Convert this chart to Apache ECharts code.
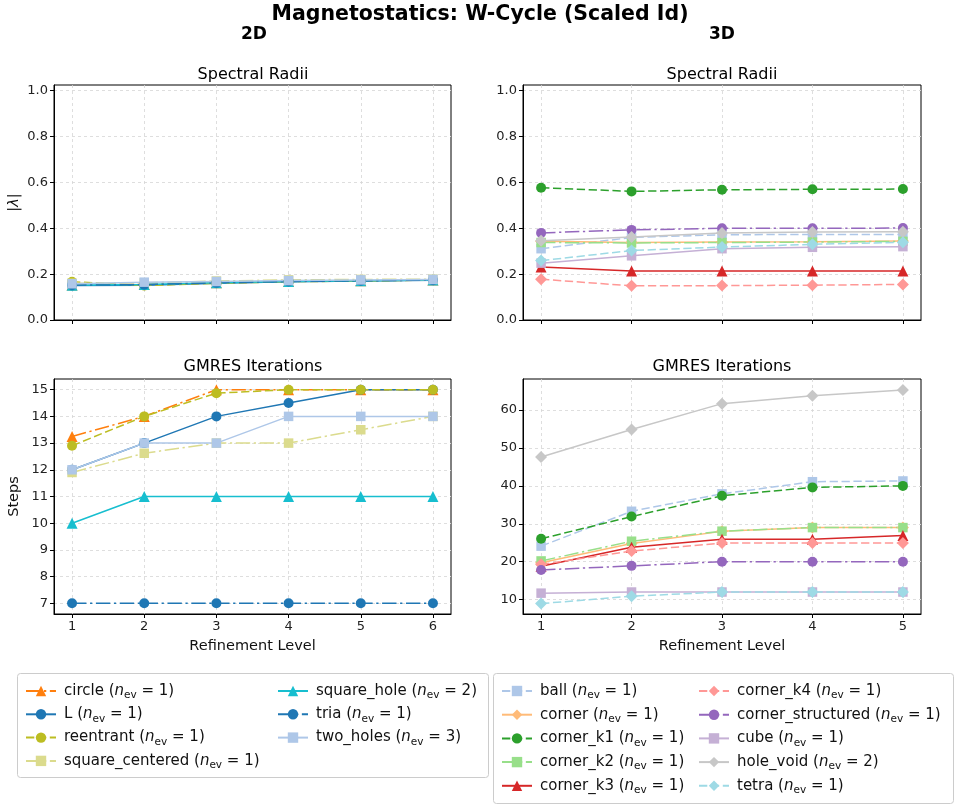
<!DOCTYPE html>
<html>
<head>
    <meta charset="UTF-8">
    <title>Magnetostatics: W-Cycle (Scaled Id)</title>
    <script src="https://cdn.jsdelivr.net/npm/echarts@6/dist/echarts.min.js"></script>
    <style>
        body { margin: 0; background: #fff; }
        #main { width: 960px; height: 811px; }
    </style>
</head>
<body>
    <div id="main"></div>
    <script>
        // refinement levels
        var levels2D = [1, 2, 3, 4, 5, 6];
        var levels3D = [1, 2, 3, 4, 5];
        var yTicksRho = [0, 0.2, 0.4, 0.6, 0.8, 1.0];
        var yTicksSteps2D = [7, 8, 9, 10, 11, 12, 13, 14, 15];
        var yTicksSteps3D = [10, 20, 30, 40, 50, 60];

        // 2D problems
        var names2D = ['circle', 'L', 'reentrant', 'square_centered', 'square_hole', 'tria', 'two_holes'];
        var nev2D = [1, 1, 1, 1, 2, 1, 3];
        var rho_circle = [0.153, 0.155, 0.162, 0.168, 0.171, 0.175];
        var rho_L = [0.150, 0.152, 0.160, 0.167, 0.170, 0.173];
        var rho_reentrant = [0.167, 0.150, 0.160, 0.167, 0.170, 0.174];
        var rho_square_centered = [0.160, 0.162, 0.170, 0.175, 0.177, 0.178];
        var rho_square_hole = [0.152, 0.155, 0.163, 0.168, 0.171, 0.174];
        var rho_tria = [0.152, 0.154, 0.162, 0.168, 0.171, 0.174];
        var rho_two_holes = [0.158, 0.165, 0.168, 0.172, 0.175, 0.177];

        var it_circle = [13.25, 14, 15, 15, 15, 15];
        var it_L = [12, 13, 14, 14.5, 15, 15];
        var it_reentrant = [12.9, 14, 14.87, 15, 15, 15];
        var it_square_centered = [11.9, 12.62, 13, 13, 13.5, 14];
        var it_square_hole = [10, 11, 11, 11, 11, 11];
        var it_tria = [7, 7, 7, 7, 7, 7];
        var it_two_holes = [12, 13, 13, 14, 14, 14];

        // 3D problems
        var names3D = ['ball', 'corner', 'corner_k1', 'corner_k2', 'corner_k3', 'corner_k4', 'corner_structured', 'cube', 'hole_void', 'tetra'];
        var nev3D = [1, 1, 1, 1, 1, 1, 1, 1, 2, 1];
        var rho_ball = [0.311, 0.360, 0.372, 0.373, 0.373];
        var rho_corner = [0.343, 0.338, 0.340, 0.341, 0.345];
        var rho_corner_k1 = [0.577, 0.561, 0.568, 0.570, 0.571];
        var rho_corner_k2 = [0.338, 0.336, 0.338, 0.340, 0.343];
        var rho_corner_k3 = [0.231, 0.214, 0.214, 0.214, 0.214];
        var rho_corner_k4 = [0.178, 0.149, 0.150, 0.152, 0.155];
        var rho_corner_structured = [0.380, 0.393, 0.400, 0.400, 0.401];
        var rho_cube = [0.248, 0.280, 0.311, 0.317, 0.320];
        var rho_hole_void = [0.346, 0.362, 0.380, 0.384, 0.385];
        var rho_tetra = [0.259, 0.303, 0.318, 0.330, 0.339];

        var it_ball = [24.1, 33.3, 37.9, 41.1, 41.3];
        var it_corner = [19.7, 24.8, 28, 29, 29];
        var it_corner_k1 = [26.05, 31.9, 37.4, 39.6, 40];
        var it_corner_k2 = [20.2, 25.4, 28.05, 29, 29];
        var it_corner_k3 = [18.8, 23.8, 25.9, 25.9, 26.9];
        var it_corner_k4 = [19.3, 22.8, 24.9, 24.9, 24.9];
        var it_corner_structured = [17.8, 18.9, 20, 20, 20];
        var it_cube = [11.7, 12, 12, 12, 12];
        var it_hole_void = [47.6, 54.9, 61.7, 63.8, 65.3];
        var it_tetra = [8.95, 10.9, 12, 12, 12];

        var rho2D = [rho_circle, rho_L, rho_reentrant, rho_square_centered, rho_square_hole, rho_tria, rho_two_holes];
        var it2D = [it_circle, it_L, it_reentrant, it_square_centered, it_square_hole, it_tria, it_two_holes];
        var rho3D = [rho_ball, rho_corner, rho_corner_k1, rho_corner_k2, rho_corner_k3, rho_corner_k4, rho_corner_structured, rho_cube, rho_hole_void, rho_tetra];
        var it3D = [it_ball, it_corner, it_corner_k1, it_corner_k2, it_corner_k3, it_corner_k4, it_corner_structured, it_cube, it_hole_void, it_tetra];

        // styles
        var DASH = [8.3, 3.6];
        var DASHDOT = [14.4, 3.6, 2.25, 3.6];
        var styles2D = [
            ['#ff7f0e', DASHDOT, 'triangle'],
            ['#1f77b4', 'solid', 'circle'],
            ['#bcbd22', DASH, 'circle'],
            ['#dbdb8d', DASHDOT, 'rect'],
            ['#17becf', 'solid', 'triangle'],
            ['#1f77b4', DASHDOT, 'circle'],
            ['#aec7e8', 'solid', 'rect']
        ];
        var styles3D = [
            ['#aec7e8', DASH, 'rect'],
            ['#ffbb78', 'solid', 'diamond'],
            ['#2ca02c', DASH, 'circle'],
            ['#98df8a', DASHDOT, 'rect'],
            ['#d62728', 'solid', 'triangle'],
            ['#ff9896', DASH, 'diamond'],
            ['#9467bd', DASHDOT, 'circle'],
            ['#c5b0d5', 'solid', 'rect'],
            ['#c7c7c7', 'solid', 'diamond'],
            ['#9edae5', DASH, 'diamond']
        ];
        var symSize = { circle: 10, rect: 9.5, triangle: 11, diamond: 12 };

        var FONT = 'DejaVu Sans';
        var nevMap = {};
        names2D.forEach(function (n, i) { nevMap[n] = nev2D[i]; });
        names3D.forEach(function (n, i) { nevMap[n] = nev3D[i]; });

        function makeSeries(name, st, xs, ys, idx) {
            return {
                name: name,
                type: 'line',
                xAxisIndex: idx,
                yAxisIndex: idx,
                data: xs.map(function (x, i) { return [x, ys[i]]; }),
                symbol: st[2],
                symbolSize: symSize[st[2]],
                showAllSymbol: true,
                lineStyle: { color: st[0], width: 1.5, type: st[1] },
                itemStyle: { color: st[0], opacity: 1 },
                emphasis: { disabled: true }
            };
        }

        var series = [];
        names2D.forEach(function (n, i) {
            series.push(makeSeries(n, styles2D[i], levels2D, rho2D[i], 0));
            series.push(makeSeries(n, styles2D[i], levels2D, it2D[i], 2));
        });
        names3D.forEach(function (n, i) {
            series.push(makeSeries(n, styles3D[i], levels3D, rho3D[i], 1));
            series.push(makeSeries(n, styles3D[i], levels3D, it3D[i], 3));
        });

        var gridLine = { show: true, lineStyle: { color: '#d6d6d6', width: 0.8, type: [3, 3] } };
        var axisLineSt = { show: true, lineStyle: { color: '#000', width: 1 } };
        var tickSt = function (vals) { return { show: true, inside: false, length: 4, lineStyle: { color: '#000' }, customValues: vals }; };
        var labelSt = function (vals, fmt, show) {
            return { show: show, customValues: vals, color: '#222', fontFamily: FONT, fontSize: 13, margin: 6, formatter: fmt };
        };

        function xAxis(idx, lv, min, max, showLabel) {
            return {
                type: 'value', gridIndex: idx, min: min, max: max,
                axisLine: axisLineSt, axisTick: tickSt(lv), axisLabel: labelSt(lv, function (v) { return String(v); }, showLabel),
                splitLine: gridLine,
                name: showLabel ? 'Refinement Level' : '', nameLocation: 'middle', nameGap: 25,
                nameTextStyle: { fontFamily: FONT, fontSize: 14.5, color: '#111' }
            };
        }
        function yAxis(idx, vals, min, max, fmt, name) {
            return {
                type: 'value', gridIndex: idx, min: min, max: max,
                axisLine: axisLineSt, axisTick: tickSt(vals), axisLabel: labelSt(vals, fmt, true),
                splitLine: gridLine,
                name: name, nameLocation: 'middle', nameGap: 32,
                nameTextStyle: { fontFamily: FONT, fontSize: 14.5, color: '#111', rich: { i: { fontStyle: 'italic', fontFamily: FONT, fontSize: 14.5, color: '#111' } } }
            };
        }

        function legendFmt(name) {
            return name + ' ({i|n}{s|ev}{t| = ' + nevMap[name] + ')}';
        }
        function legend(left, top, data, gap) {
            return {
                left: left, top: top, orient: 'vertical', data: data,
                padding: 0,
                itemWidth: 30, itemHeight: 13, itemGap: gap,
                selectedMode: false,
                formatter: legendFmt,
                textStyle: {
                    fontFamily: FONT, fontSize: 15, color: '#111', lineHeight: 20, padding: [0, 0, 0, 3],
                    rich: {
                        i: { fontStyle: 'italic', fontFamily: FONT, fontSize: 15, color: '#111', lineHeight: 20 },
                        s: { fontFamily: FONT, fontSize: 10.5, color: '#111', lineHeight: 12, verticalAlign: 'bottom' },
                        t: { fontFamily: FONT, fontSize: 15, color: '#111', lineHeight: 20 }
                    }
                }
            };
        }

        function txt(x, y, text, size, weight) {
            return {
                type: 'text', x: x, y: y, silent: true,
                style: { text: text, fontFamily: FONT, fontSize: size, fontWeight: weight, fill: '#000', align: 'center', verticalAlign: 'middle' }
            };
        }

        var gridBox = { show: true, borderColor: '#000', borderWidth: 1, backgroundColor: 'transparent' };
        var fmtRho = function (v) { return v.toFixed(1); };
        var fmtInt = function (v) { return String(Math.round(v)); };

        var option = {
            animation: false,
            backgroundColor: '#fff',
            grid: [
                Object.assign({ left: 54, top: 85, width: 397, height: 235 }, gridBox),
                Object.assign({ left: 523, top: 85, width: 398, height: 235 }, gridBox),
                Object.assign({ left: 54, top: 379, width: 397, height: 235 }, gridBox),
                Object.assign({ left: 523, top: 379, width: 398, height: 235 }, gridBox)
            ],
            xAxis: [
                xAxis(0, levels2D, 0.75, 6.25, false),
                xAxis(1, levels3D, 0.8, 5.2, false),
                xAxis(2, levels2D, 0.75, 6.25, true),
                xAxis(3, levels3D, 0.8, 5.2, true)
            ],
            yAxis: [
                yAxis(0, yTicksRho, 0, 1.025, fmtRho, '|{i|λ}|'),
                yAxis(1, yTicksRho, 0, 1.025, fmtRho, ''),
                yAxis(2, yTicksSteps2D, 6.6, 15.4, fmtInt, 'Steps'),
                yAxis(3, yTicksSteps3D, 6.2, 68.2, fmtInt, '')
            ],
            legend: [
                legend(25, 681, ['circle', 'L', 'reentrant', 'square_centered'], 3.3),
                legend(277, 681, ['square_hole', 'tria', 'two_holes'], 3.3),
                legend(501, 681, ['ball', 'corner', 'corner_k1', 'corner_k2', 'corner_k3'], 3.7),
                legend(698, 681, ['corner_k4', 'corner_structured', 'cube', 'hole_void', 'tetra'], 3.7)
            ],
            graphic: [
                { type: 'rect', shape: { x: 17.5, y: 673.5, width: 471, height: 104, r: 3 }, style: { fill: '#fff', stroke: '#cccccc', lineWidth: 1 }, z: -1 },
                { type: 'rect', shape: { x: 493.5, y: 673.5, width: 460, height: 130, r: 3 }, style: { fill: '#fff', stroke: '#cccccc', lineWidth: 1 }, z: -1 },
                txt(480, 15, 'Magnetostatics: W-Cycle (Scaled Id)', 20.5, 'bold'),
                txt(254, 35, '2D', 17, 'bold'),
                txt(722, 35, '3D', 17, 'bold'),
                txt(253, 75, 'Spectral Radii', 16, 'normal'),
                txt(722, 75, 'Spectral Radii', 16, 'normal'),
                txt(253, 367, 'GMRES Iterations', 16, 'normal'),
                txt(722, 367, 'GMRES Iterations', 16, 'normal')
            ],
            series: series
        };

        var chart = echarts.init(document.getElementById('main'), null, { renderer: 'canvas' });
        chart.setOption(option);
    </script>
</body>
</html>
